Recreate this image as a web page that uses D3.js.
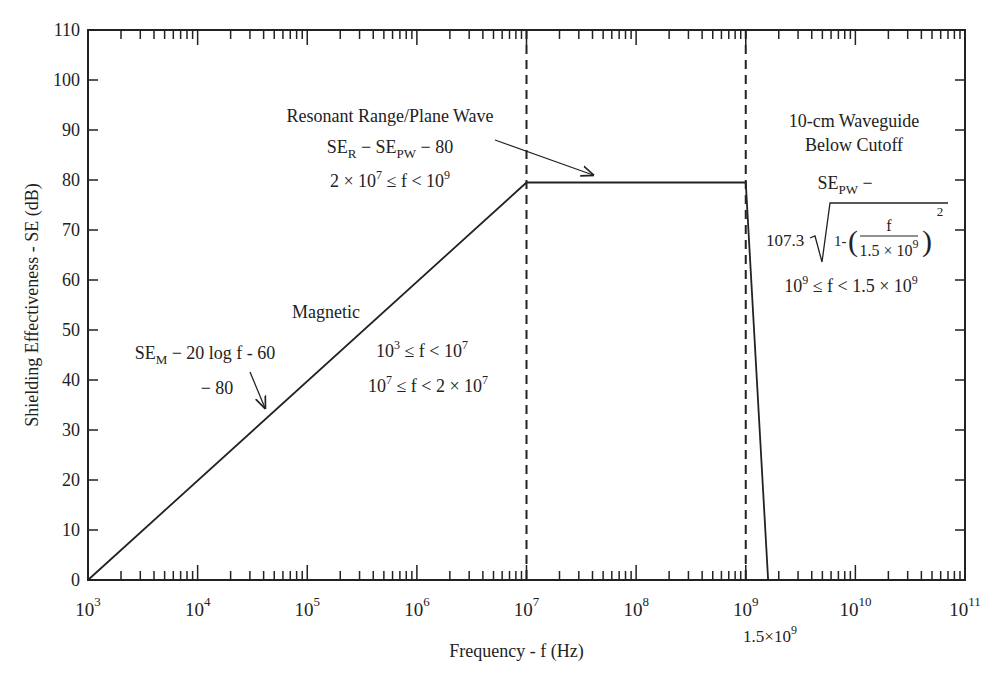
<!DOCTYPE html>
<html><head><meta charset="utf-8">
<script src="https://cdn.jsdelivr.net/npm/d3@7"></script>
<style>body{margin:0;background:#fff}text{font-family:"Liberation Serif","DejaVu Serif",serif;fill:#222}</style>
</head><body><svg id="c" width="1000" height="680"></svg>
<script>
const curveF = [1e3, 1e7, 1e9, 1.6e9];
const curveSE = [0, 79.5, 79.5, 0];
const dashedF = [1e7, 1e9];
const yTicks = [0,10,20,30,40,50,60,70,80,90,100,110];
const decadeExps = [3,4,5,6,7,8,9,10,11];

const svg = d3.select("#c");
const L=88,R=965,T=30,B=580;
const x = d3.scaleLog().domain([1e3,1e11]).range([L,R]);
const y = d3.scaleLinear().domain([0,110]).range([B,T]);
const g = svg.append("g").attr("stroke","#222").attr("fill","none");
g.append("rect").attr("x",L).attr("y",T).attr("width",R-L).attr("height",B-T).attr("stroke-width",2);

const minor=[];
decadeExps.slice(0,-1).forEach(e=>{for(let k=2;k<=9;k++)minor.push(k*Math.pow(10,e));});
minor.forEach(v=>{
  g.append("line").attr("x1",x(v)).attr("x2",x(v)).attr("y1",B).attr("y2",B-9).attr("stroke-width",1.5);
  g.append("line").attr("x1",x(v)).attr("x2",x(v)).attr("y1",T).attr("y2",T+9).attr("stroke-width",1.5);
});
decadeExps.forEach(e=>{
  const v=Math.pow(10,e);
  g.append("line").attr("x1",x(v)).attr("x2",x(v)).attr("y1",B).attr("y2",B-15).attr("stroke-width",1.5);
  g.append("line").attr("x1",x(v)).attr("x2",x(v)).attr("y1",T).attr("y2",T+15).attr("stroke-width",1.5);
  const t=svg.append("text").attr("x",x(v)).attr("y",616).attr("text-anchor","middle").attr("font-size",19);
  t.append("tspan").text("10");
  t.append("tspan").attr("dy",-10).attr("font-size",13).text(e);
});
yTicks.forEach(v=>{
  g.append("line").attr("x1",L).attr("x2",L+10).attr("y1",y(v)).attr("y2",y(v)).attr("stroke-width",1.5);
  g.append("line").attr("x1",R).attr("x2",R-10).attr("y1",y(v)).attr("y2",y(v)).attr("stroke-width",1.5);
  svg.append("text").attr("x",L-8).attr("y",y(v)+6).attr("text-anchor","end").attr("font-size",18).text(v);
});
dashedF.forEach(f=>g.append("line").attr("x1",x(f)).attr("x2",x(f)).attr("y1",T).attr("y2",B)
  .attr("stroke-width",2).attr("stroke-dasharray","9,6"));
g.append("path").attr("d",d3.line().x(d=>x(d[0])).y(d=>y(d[1]))(curveF.map((f,i)=>[f,curveSE[i]]))).attr("stroke-width",1.8);

svg.append("text").attr("x",(L+R)/2-10).attr("y",657).attr("text-anchor","middle").attr("font-size",18).text("Frequency - f (Hz)");
svg.append("text").attr("transform","translate(38,305) rotate(-90)").attr("text-anchor","middle").attr("font-size",18).text("Shielding Effectiveness - SE (dB)");
let t=svg.append("text").attr("x",770).attr("y",642).attr("text-anchor","middle").attr("font-size",17);
t.append("tspan").text("1.5×10");t.append("tspan").attr("dy",-8).attr("font-size",12).text("9");

function txt(xx,yy,parts,anchor="middle",fs=18){
  const t=svg.append("text").attr("x",xx).attr("y",yy).attr("text-anchor",anchor).attr("font-size",fs);
  parts.forEach(p=>{
    if(typeof p==="string") t.append("tspan").text(p);
    else if(p.sup) {t.append("tspan").attr("dy",-8).attr("font-size",12).text(p.sup);t.append("tspan").attr("dy",8).text("\u200b");}
    else if(p.sub){t.append("tspan").attr("dy",5).attr("font-size",13).text(p.sub);t.append("tspan").attr("dy",-5).text("\u200b");}
  });
}
txt(390,122,["Resonant Range/Plane Wave"]);
txt(390,153,["SE",{sub:"R"}," − SE",{sub:"PW"}," − 80"]);
txt(390,187,["2 × 10",{sup:"7"}," ≤ f < 10",{sup:"9"}]);
txt(326,318,["Magnetic"]);
txt(205,359,["SE",{sub:"M"}," − 20 log f - 60"]);
txt(217,394,["− 80"]);
txt(422,357,["10",{sup:"3"}," ≤ f < 10",{sup:"7"}]);
txt(428,392,["10",{sup:"7"}," ≤ f < 2 × 10",{sup:"7"}]);
txt(854,127,["10-cm Waveguide"]);
txt(854,151,["Below Cutoff"]);
txt(845,189,["SE",{sub:"PW"}," −"]);
txt(785,246,["107.3"],"middle",17);
txt(851,292,["10",{sup:"9"}," ≤ f < 1.5 × 10",{sup:"9"}]);
// sqrt
g.append("path").attr("d","M810,238 L815,236 L822,262 L830,203 L948,203").attr("stroke-width",1.3);
txt(834,246,["1-"],"start",15);
svg.append("text").attr("x",848).attr("y",251).attr("font-size",30).text("(");
svg.append("text").attr("x",922).attr("y",251).attr("font-size",30).text(")");
txt(889,231,["f"],"middle",16);
g.append("line").attr("x1",860).attr("x2",918).attr("y1",236).attr("y2",236).attr("stroke-width",1);
txt(889,256,["1.5 × 10",{sup:"9"}],"middle",16);
txt(940,216,["2"],"middle",13);
const defs=svg.append("defs");
defs.append("marker").attr("id","ah").attr("viewBox","0 0 10 10").attr("refX",9).attr("refY",5)
 .attr("markerWidth",10).attr("markerHeight",10).attr("orient","auto-start-reverse")
 .append("path").attr("d","M0,1 L10,5 L0,9").attr("fill","none").attr("stroke","#222").attr("stroke-width",1.3);
g.append("line").attr("x1",495).attr("y1",140).attr("x2",593).attr("y2",175).attr("stroke-width",1.3).attr("marker-end","url(#ah)");
g.append("line").attr("x1",250).attr("y1",372).attr("x2",265).attr("y2",408).attr("stroke-width",1.3).attr("marker-end","url(#ah)");
</script></body></html>
